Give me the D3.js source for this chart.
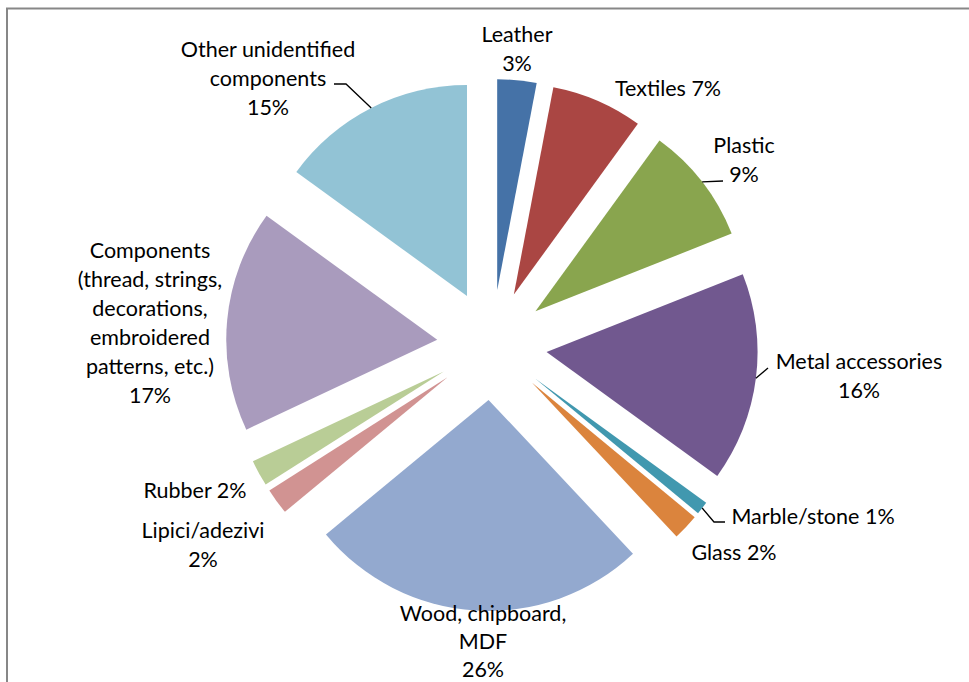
<!DOCTYPE html>
<html lang="en">
  <head>
    <meta charset="utf-8">
    <title>Materials pie</title>
    <script src="https://cdnjs.cloudflare.com/ajax/libs/d3/7.8.5/d3.min.js"></script>
    <style type="text/css">
    body { margin: 0; background: #fff; }
    text { font-family: Lato, "Open Sans", sans-serif; font-size: 21.5px; fill: #000; }
    </style>
  </head>
  <body>
    <script type="text/javascript">
    // data
    var categories = ["Leather", "Textiles", "Plastic", "Metal accessories", "Marble/stone", "Glass",
      "Wood, chipboard, MDF", "Lipici/adezivi", "Rubber",
      "Components (thread, strings, decorations, embroidered patterns, etc.)", "Other unidentified components"];
    var values = [3, 7, 9, 16, 1, 2, 26, 2, 2, 17, 15];
    var colors = ["#4572A7", "#AA4643", "#89A54E", "#71588F", "#4198AF", "#DB843D",
      "#93A9CF", "#D19392", "#B9CD96", "#A99BBD", "#92C3D5"];

    // label text lines, and where each label block sits (center x, center y of first line)
    var labelLines = [
      ["Leather", "3%"],
      ["Textiles 7%"],
      ["Plastic", "9%"],
      ["Metal accessories", "16%"],
      ["Marble/stone 1%"],
      ["Glass 2%"],
      ["Wood, chipboard,", "MDF", "26%"],
      ["Lipici/adezivi", "2%"],
      ["Rubber 2%"],
      ["Components", "(thread, strings,", "decorations,", "embroidered", "patterns, etc.)", "17%"],
      ["Other unidentified", "components", "15%"]
    ];
    var labelPos = [[517, 34], [668, 88], [744, 145], [859, 361], [813, 516], [734, 552],
      [483, 613], [203, 530], [195, 490], [150, 250], [268, 49]];
    // leader line end points (label side), null = no leader
    var leaderEnd = [null, null, [[723, 181]], [[768, 368]], null, null, null, null, null, null,
      [[346, 84], [334, 84]]];
    leaderEnd[4] = [[714, 522], [725, 522]];

    var w = 969, h = 682;
    var cx = 492, cy = 345, r = 211, explode = 55, lineH = 29;

    var svg = d3.select("body").append("svg")
      .attr("width", w)
      .attr("height", h);

    // chart border (runs off right/bottom edges)
    svg.append("path")
      .attr("d", "M7,700 V8.5 H990")
      .attr("fill", "none")
      .attr("stroke", "#878787")
      .attr("stroke-width", 2);

    var pie = d3.pie().sort(null).value(function(d) { return d; });
    var arcs = pie(values);
    var arc = d3.arc().innerRadius(0).outerRadius(r);

    function mid(d) { return (d.startAngle + d.endAngle) / 2; }

    var g = svg.append("g").attr("transform", "translate(" + cx + "," + cy + ")");

    g.selectAll("path.slice")
      .data(arcs)
      .enter()
      .append("path")
      .attr("class", "slice")
      .attr("d", arc)
      .attr("fill", function(d, i) { return colors[i]; })
      .attr("transform", function(d) {
        var a = mid(d);
        return "translate(" + (explode * Math.sin(a)) + "," + (-explode * Math.cos(a)) + ")";
      });

    // leader lines from slice edge (at bisector) to label
    arcs.forEach(function(d, i) {
      if (!leaderEnd[i]) return;
      var a = mid(d);
      var sx = cx + (explode + r) * Math.sin(a);
      var sy = cy - (explode + r) * Math.cos(a);
      var pts = [[sx, sy]].concat(leaderEnd[i]);
      svg.append("path")
        .attr("d", d3.line()(pts))
        .attr("fill", "none")
        .attr("stroke", "#000")
        .attr("stroke-width", 1.3);
    });

    // labels
    var lg = svg.selectAll("text.lbl")
      .data(labelLines)
      .enter()
      .append("text")
      .attr("class", "lbl")
      .attr("text-anchor", "middle")
      .attr("x", function(d, i) { return labelPos[i][0]; })
      .attr("y", function(d, i) { return labelPos[i][1]; });

    lg.selectAll("tspan")
      .data(function(d, i) { return d.map(function(s) { return { s: s, i: i }; }); })
      .enter()
      .append("tspan")
      .attr("x", function(d) { return labelPos[d.i][0]; })
      .attr("dy", function(d, j) { return j === 0 ? "0.35em" : (d.i === 6 ? 28 : lineH); })
      .text(function(d) { return d.s; });
    </script>
  </body>
</html>
